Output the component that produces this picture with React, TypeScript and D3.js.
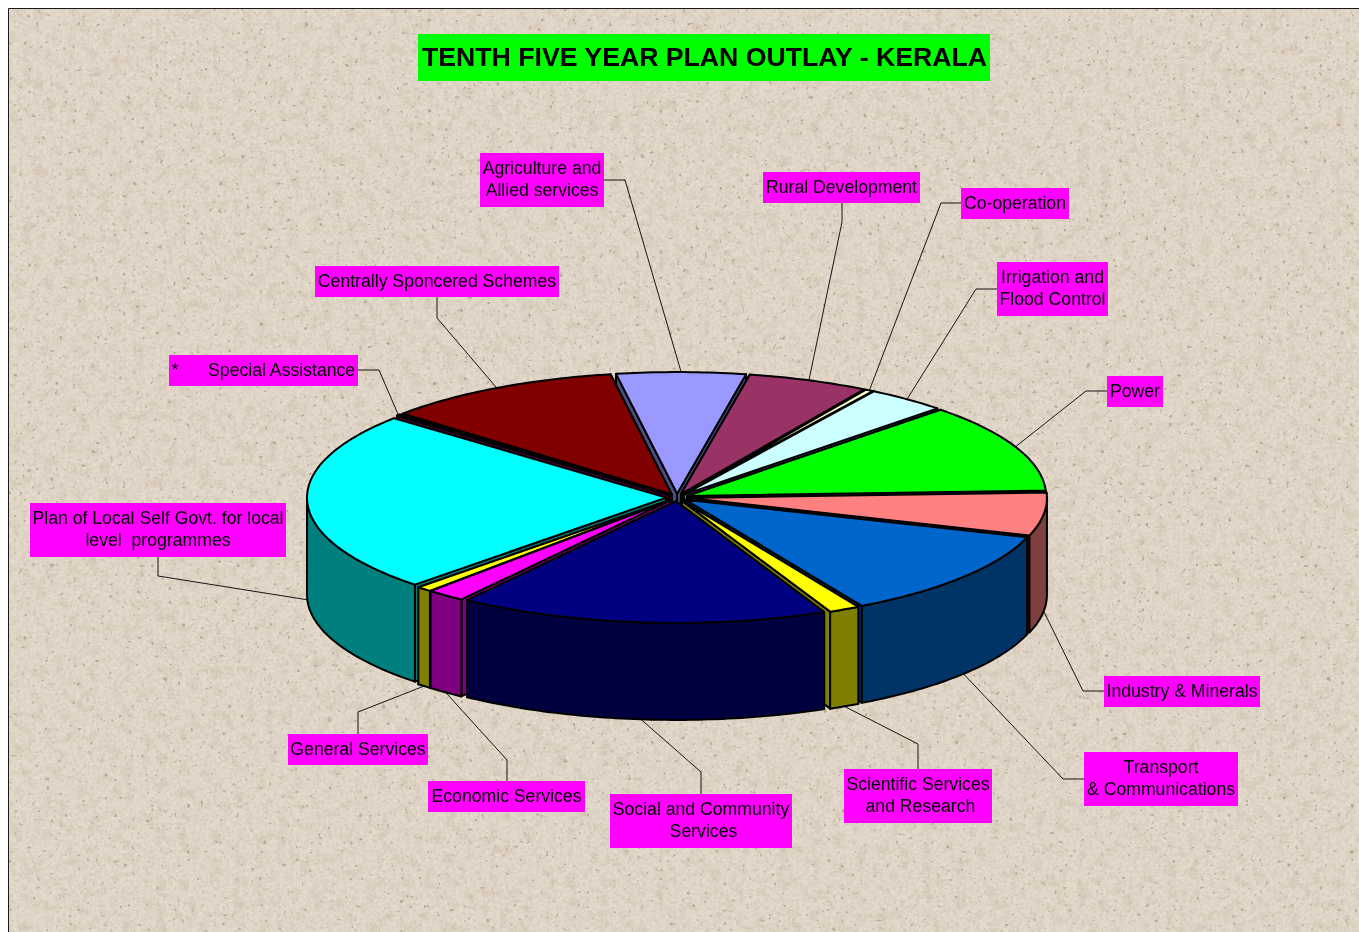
import React from 'react';
import * as d3 from 'd3';

// Plan outlay shares, clockwise from Agriculture (percent of the total)
const categories = [
  'Agriculture and Allied services', 'Rural Development', 'Co-operation', 'Irrigation and Flood Control',
  'Power', 'Industry & Minerals', 'Transport & Communications', 'Scientific Services and Research',
  'Social and Community Services', 'Economic Services', 'General Services',
  'Plan of Local Self Govt. for local level programmes', 'Special Assistance', 'Centrally Sponcered Schemes',
];
const shares = [5.8, 5.45, 0.35, 3.6, 11.8, 5.7, 11.85, 1.4, 16.65, 1.75, 0.7, 24.0, 0.2, 10.75];
const faceColors = [
  '#9999FF', '#993366', '#FFFFCC', '#CCFFFF', '#00FF00', '#FF8080', '#0066CC',
  '#FFFF00', '#000080', '#FF00FF', '#FFFF00', '#00FFFF', '#800080', '#800000',
];

// Callout text lines
const labelLines = [
  ['Agriculture and', 'Allied services'], ['Rural Development'], ['Co-operation'], ['Irrigation and', 'Flood Control'],
  ['Power'], ['Industry & Minerals'], ['Transport', '& Communications'], ['Scientific Services', ' and Research'],
  ['Social and Community', ' Services'], ['Economic Services'], ['General Services'],
  ['Plan of Local Self Govt. for local', 'level  programmes'], ['*      Special Assistance'], ['Centrally Sponcered Schemes'],
];

// Callout boxes: x, y, width, height
const labelBoxes = [
  [480, 153, 124, 54], [763, 172, 157, 31], [961, 188, 108, 31], [997, 262, 111, 54],
  [1107, 376, 56, 31], [1104, 676, 156, 31], [1084, 752, 154, 54], [844, 769, 148, 54],
  [610, 794, 182, 54], [428, 781, 157, 31], [288, 734, 140, 31],
  [30, 503, 256, 54], [169, 355, 189, 31], [315, 266, 244, 31],
];
// Leader lines: start on the box, elbow; the far end comes from the slice
const leaderStarts = [
  [604, 180], [842, 203], [961, 203], [997, 289], [1107, 391], [1104, 691], [1084, 779],
  [918, 769], [701, 794], [507, 781], [358, 734], [158, 557], [358, 370], [437, 297],
];
const leaderElbows = [
  [625, 180], [842, 222], [941, 203], [976, 289], [1086, 391], [1083, 691], [1063, 779],
  [918, 744], [701, 772], [507, 760], [358, 712], [158, 576], [379, 370], [437, 318],
];

const WIDTH = 1359;
const HEIGHT = 932;
const CX = 677;
const CY = 497.5;
const RADIUS = 359;
const EXPLODE = 11;
const TILT = 0.339;
const DEPTH = 97;
const START = (-9.8 * Math.PI) / 180;
const SANS = '"Liberation Sans", Arial, sans-serif';

const arcs = d3.pie<number>().sort(null).startAngle(START).endAngle(START + 2 * Math.PI)(shares);

const halfTone = (c: string) => {
  const { r, g, b } = d3.rgb(c);
  return d3.rgb(Math.floor(r / 2), Math.floor(g / 2), Math.floor(b / 2)).formatHex();
};

const pt = (t: number, r: number, ox: number, oy: number, drop = 0): [number, number] => [
  CX + ox + r * Math.sin(t),
  CY + oy - r * TILT * Math.cos(t) + drop,
];
const sweep = (a: number, b: number) => {
  const n = Math.max(2, Math.ceil(((b - a) * 180) / Math.PI));
  return d3.range(n + 1).map((i) => a + ((b - a) * i) / n);
};
const poly = d3.line().curve(d3.curveLinear);

export default function App() {
  const order = d3.range(arcs.length).sort((i, j) => {
    const mid = (k: number) => (arcs[k].startAngle + arcs[k].endAngle) / 2;
    return -Math.cos(mid(i)) - -Math.cos(mid(j));
  });

  const slices = order.map((i) => {
    const { startAngle: a, endAngle: b } = arcs[i];
    const mid = (a + b) / 2;
    const ox = EXPLODE * Math.sin(mid);
    const oy = -EXPLODE * TILT * Math.cos(mid);
    const c0 = pt(0, 0, ox, oy);
    const c1 = pt(0, 0, ox, oy, DEPTH);
    const face = (t: number) =>
      poly([c0, pt(t, RADIUS, ox, oy), pt(t, RADIUS, ox, oy, DEPTH), c1]) + 'Z';
    const top = poly([c0, ...sweep(a, b).map((t) => pt(t, RADIUS, ox, oy))]) + 'Z';

    // The rim is only seen on the front half of the disc
    const lo = Math.max(a, Math.PI / 2);
    const hi = Math.min(b, (3 * Math.PI) / 2);
    let rim: string | null = null;
    if (hi > lo) {
      const angles = sweep(lo, hi);
      rim =
        poly([
          ...angles.map((t) => pt(t, RADIUS, ox, oy)),
          ...angles.slice().reverse().map((t) => pt(t, RADIUS, ox, oy, DEPTH)),
        ]) + 'Z';
    }
    // Of the two cut faces, the one nearer the viewer goes on last
    const [farFace, nearFace] = Math.cos(a) > Math.cos(b) ? [a, b] : [b, a];
    const side = halfTone(faceColors[i]);
    return (
      <g key={categories[i]} stroke="#000" strokeWidth={2} strokeLinejoin="round">
        <path d={face(farFace)} fill={side} />
        <path d={face(nearFace)} fill={side} />
        {rim && <path d={rim} fill={side} />}
        <path d={top} fill={faceColors[i]} />
      </g>
    );
  });

  const callouts = arcs.map((arc, i) => {
    const mid = (arc.startAngle + arc.endAngle) / 2;
    const drop = Math.cos(mid) < 0 ? DEPTH : 0;
    const end = pt(mid, RADIUS + EXPLODE, 0, 0, drop);
    return (
      <polyline
        key={categories[i]}
        points={[leaderStarts[i], leaderElbows[i], end].map((p) => p.join(',')).join(' ')}
        fill="none"
        stroke="#000"
        strokeWidth={0.9}
      />
    );
  });

  const labels = labelBoxes.map(([x, y, w, h], i) => (
    <g key={categories[i]}>
      <rect x={x} y={y} width={w} height={h} fill="#FF00FF" />
      {labelLines[i].map((line, j) => (
        <text
          key={j}
          x={x + w / 2}
          y={y + 21 + j * 22.4}
          textAnchor="middle"
          fontFamily={SANS}
          fontSize={17.65}
          fill="#000"
          style={{ whiteSpace: 'pre' }}
        >
          {line}
        </text>
      ))}
    </g>
  ));

  return (
    <svg
      width={WIDTH}
      height={HEIGHT}
      viewBox={`0 0 ${WIDTH} ${HEIGHT}`}
      style={{ position: 'fixed', left: 0, top: 0, display: 'block' }}
    >
      <defs>
        <filter id="grain" x="0" y="0" width="100%" height="100%" colorInterpolationFilters="sRGB">
          <feTurbulence type="fractalNoise" baseFrequency="0.3" numOctaves={2} seed={4} />
          <feColorMatrix
            type="matrix"
            values="0 0 0 0 0.78  0 0 0 0 0.71  0 0 0 0 0.62  2.2 0 0 0 -0.85"
          />
        </filter>
        <filter id="mottle" x="0" y="0" width="100%" height="100%" colorInterpolationFilters="sRGB">
          <feTurbulence type="fractalNoise" baseFrequency="0.09" numOctaves={3} seed={31} />
          <feColorMatrix
            type="matrix"
            values="0 0 0 0 0.76  0 0 0 0 0.68  0 0 0 0 0.58  3 0 0 0 -1.4"
          />
        </filter>
        <filter id="flecks" x="0" y="0" width="100%" height="100%" colorInterpolationFilters="sRGB">
          <feTurbulence type="fractalNoise" baseFrequency="0.22" numOctaves={2} seed={11} />
          <feColorMatrix
            type="matrix"
            values="0 0 0 0 0.62  0 0 0 0 0.52  0 0 0 0 0.42  0 10 0 0 -7.0"
          />
        </filter>
        <filter id="glints" x="0" y="0" width="100%" height="100%" colorInterpolationFilters="sRGB">
          <feTurbulence type="fractalNoise" baseFrequency="0.35" numOctaves={2} seed={23} />
          <feColorMatrix
            type="matrix"
            values="0 0 0 0 0.93  0 0 0 0 0.89  0 0 0 0 0.84  0 0 2.6 0 -1.15"
          />
        </filter>
      </defs>

      <rect x={0} y={0} width={WIDTH} height={HEIGHT} fill="#fff" />
      <rect x={8} y={8} width={WIDTH} height={HEIGHT} fill="#E2D9CC" />
      <rect x={8} y={8} width={WIDTH} height={HEIGHT} filter="url(#mottle)" opacity={0.35} />
      <rect x={8} y={8} width={WIDTH} height={HEIGHT} filter="url(#grain)" opacity={0.45} />
      <rect x={8} y={8} width={WIDTH} height={HEIGHT} filter="url(#glints)" opacity={0.5} />
      <rect x={8} y={8} width={WIDTH} height={HEIGHT} filter="url(#flecks)" opacity={0.55} />
      <path d={`M8.5 ${HEIGHT}V8.5H${WIDTH}`} fill="none" stroke="#1a1a1a" strokeWidth={1} />

      <rect x={418} y={34} width={572} height={47} fill="#00FF00" />
      <text
        x={704.5}
        y={66}
        textAnchor="middle"
        fontFamily={SANS}
        fontWeight="bold"
        fontSize={26.65}
        fill="#000"
      >
        TENTH FIVE YEAR PLAN OUTLAY - KERALA
      </text>

      {callouts}
      {slices}
      {labels}
    </svg>
  );
}
